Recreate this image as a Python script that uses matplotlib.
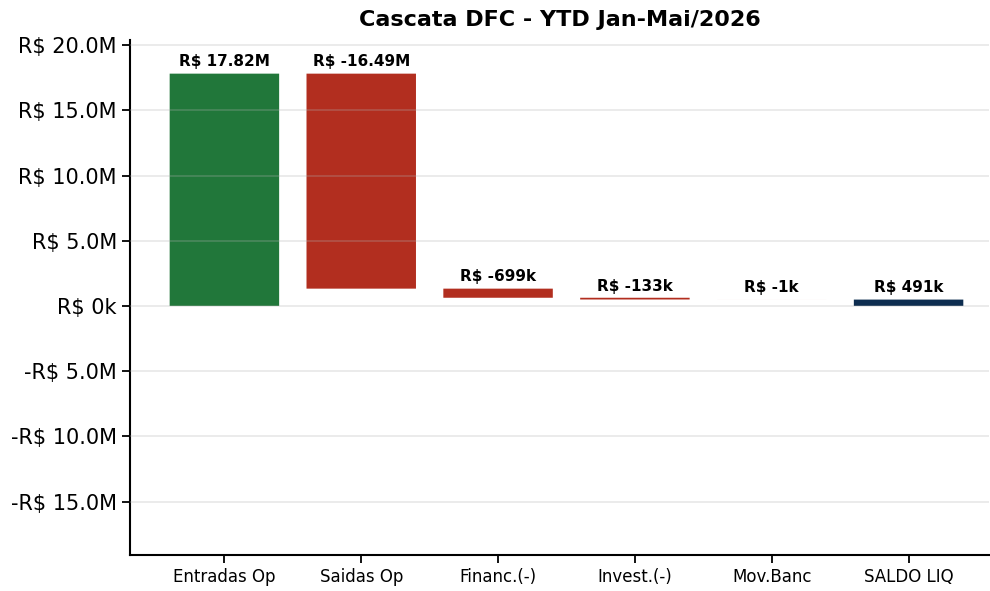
import matplotlib.pyplot as plt
import numpy as np
from matplotlib.ticker import FuncFormatter

# Dados da cascata (valores em R$)
categorias = ['Entradas Op', 'Saidas Op', 'Financ.(-)', 'Invest.(-)', 'Mov.Banc', 'SALDO LIQ']
valores = [17.82e6, -16.49e6, -699e3, -133e3, -1e3]
saldo_liq = 491e3

cor_pos = '#21773a'
cor_neg = '#b22e1f'
cor_saldo = '#0d2d50'


def fmt_valor(v):
    if abs(v) >= 1e6:
        return f"R$ {v / 1e6:.2f}M"
    return f"R$ {v / 1e3:.0f}k"


def fmt_eixo(v, pos):
    sinal = '-' if v < 0 else ''
    if abs(v) >= 1e6:
        return f"{sinal}R$ {abs(v) / 1e6:.1f}M"
    return f"{sinal}R$ {abs(v) / 1e3:.0f}k"


fig = plt.figure(figsize=(9.9, 5.91), dpi=100)
ax = fig.add_axes([0.1313, 0.0609, 0.868, 0.8714])

# Calcula bases acumuladas
bases = []
alturas = []
cores = []
acum = 0
for v in valores:
    if v >= 0:
        bases.append(acum)
    else:
        bases.append(acum + v)
    alturas.append(abs(v))
    cores.append(cor_pos if v >= 0 else cor_neg)
    acum += v
bases.append(0)
alturas.append(saldo_liq)
cores.append(cor_saldo)

x = np.arange(len(categorias))
barras = ax.bar(x, alturas, bottom=bases, color=cores, width=0.8,
                linewidth=0, zorder=2)
for b in barras:
    b.set_snap(False)

# Rotulos acima das barras
rotulos = [fmt_valor(v) for v in valores] + [fmt_valor(saldo_liq)]
for xi, b, h, r in zip(x, bases, alturas, rotulos):
    ax.annotate(r, (xi, b + h), xytext=(0, 3), textcoords='offset points',
                ha='center', va='bottom', fontsize=11, fontweight='bold')

ax.grid(True, axis='y', color='#b0b0b0', alpha=0.3, linewidth=1.2, zorder=3)
ax.set_axisbelow(False)

ax.set_title('Cascata DFC - YTD Jan-Mai/2026', fontsize=16, fontweight='bold', pad=10)
ax.set_xticks(x)
ax.set_xticklabels(categorias, fontsize=12)
ax.yaxis.set_major_formatter(FuncFormatter(fmt_eixo))
ax.set_yticks(np.arange(-15e6, 20.1e6, 5e6))
ax.tick_params(axis='y', labelsize=15, width=1.3, length=6)
ax.tick_params(axis='x', width=1.3, length=6)
ax.set_ylim(-19.1e6, 20.4e6)
ax.set_xlim(-0.69, 5.59)

ax.spines['top'].set_visible(False)
ax.spines['right'].set_visible(False)
ax.spines['left'].set_linewidth(1.5)
ax.spines['bottom'].set_linewidth(1.5)

plt.savefig('out.png', dpi=100)
